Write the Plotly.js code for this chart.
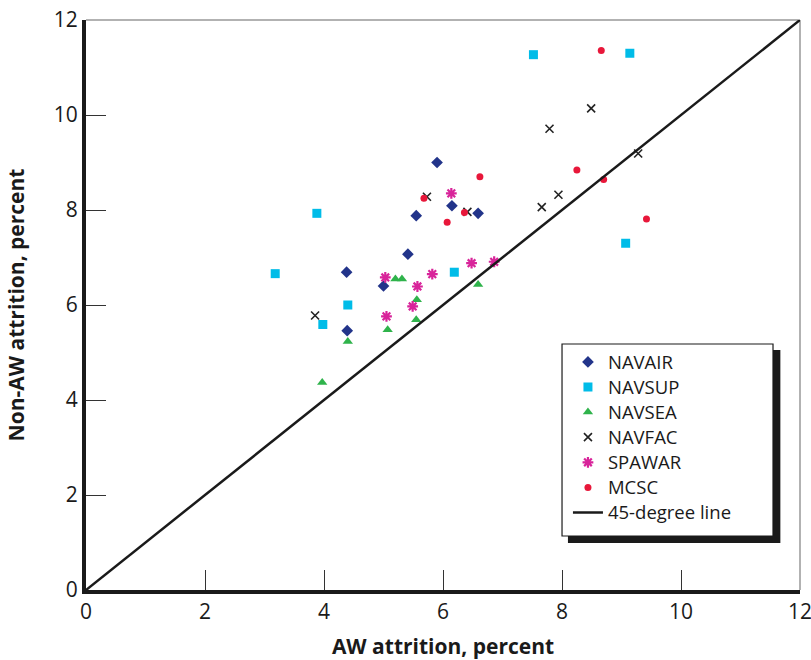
<!DOCTYPE html>
<html>
<head>
<meta charset="utf-8">
<script src="https://cdn.plot.ly/plotly-3.0.1.min.js"></script>
<style>html,body{margin:0;padding:0;background:#fff;}#chart{width:811px;height:660px;}</style>
</head>
<body>
<div id="chart"></div>
<script>
// Data (AW attrition %, Non-AW attrition %)
const navairX = [5.90, 6.15, 5.55, 6.59, 5.41, 4.38, 5.00, 4.39];
const navairY = [9.00, 8.09, 7.88, 7.93, 7.07, 6.69, 6.40, 5.46];
const navsupX = [7.52, 9.14, 3.88, 3.18, 6.19, 4.40, 3.98, 9.07];
const navsupY = [11.27, 11.30, 7.93, 6.66, 6.69, 6.00, 5.59, 7.30];
const navseaX = [5.20, 5.31, 5.56, 5.55, 5.07, 4.40, 6.59, 3.97];
const navseaY = [6.55, 6.55, 6.11, 5.69, 5.48, 5.23, 6.43, 4.37];
const navfacX = [5.73, 6.41, 3.85, 8.49, 7.79, 7.94, 7.66, 9.28];
const navfacY = [8.28, 7.96, 5.78, 10.14, 9.71, 8.32, 8.06, 9.19];
const spawarX = [6.14, 6.48, 6.86, 5.82, 5.03, 5.57, 5.49, 5.05];
const spawarY = [8.35, 6.88, 6.91, 6.65, 6.58, 6.39, 5.97, 5.76];
const mcscX = [6.62, 5.68, 6.36, 6.07, 8.66, 8.25, 8.70, 9.42];
const mcscY = [8.70, 8.25, 7.95, 7.74, 11.36, 8.84, 8.64, 7.81];
const lineX = [0, 12];
const lineY = [0, 12];
const tickVals = [0, 2, 4, 6, 8, 10, 12];
const seriesNames = ["NAVAIR", "NAVSUP", "NAVSEA", "NAVFAC", "SPAWAR", "MCSC", "45-degree line"];

const FONT = "Open Sans, Noto Sans, sans-serif";
const lg = s => '<span style="font-size:18.5px">' + s + '</span>';

const traces = [
  {name: lg(seriesNames[0]), x: navairX, y: navairY, mode: "markers", type: "scatter",
   marker: {symbol: "diamond", size: 9, color: "#22348a"}},
  {name: lg(seriesNames[1]), x: navsupX, y: navsupY, mode: "markers", type: "scatter",
   marker: {symbol: "square", size: 9, color: "#00bce8"}},
  {name: lg(seriesNames[2]), x: navseaX, y: navseaY, mode: "markers", type: "scatter",
   marker: {symbol: "triangle-up", size: 9, color: "#2fb34b"}},
  {name: lg(seriesNames[3]), x: navfacX, y: navfacY, mode: "markers", type: "scatter",
   marker: {symbol: "x-thin-open", size: 8, color: "#222", line: {width: 1.6, color: "#222"}}},
  {name: lg(seriesNames[4]), x: spawarX, y: spawarY, mode: "markers", type: "scatter",
   marker: {symbol: "asterisk-open", size: 9, color: "#d8249a", line: {width: 2.2, color: "#d8249a"}}},
  {name: lg(seriesNames[5]), x: mcscX, y: mcscY, mode: "markers", type: "scatter",
   marker: {symbol: "circle", size: 7, color: "#e8173a"}},
  {name: lg(seriesNames[6]), x: lineX, y: lineY, mode: "lines", type: "scatter",
   line: {color: "#1a1a1a", width: 2.5}}
];

const layout = {
  width: 811, height: 660,
  margin: {l: 86, r: 11, t: 20, b: 70},
  paper_bgcolor: "#fff", plot_bgcolor: "#fff",
  font: {family: FONT, size: 19, color: "#1a1a1a"},
  showlegend: true,
  xaxis: {
    range: [0, 12], tickvals: tickVals, ticks: "inside", ticklen: 20, tickwidth: 1, tickcolor: "#333",
    showgrid: false, zeroline: false, showline: true, linecolor: "#1a1a1a", linewidth: 4,
    tickfont: {family: FONT, size: 21, color: "#1a1a1a"}, ticklabeloverflow: "allow",
    title: {text: "AW attrition, percent", font: {family: FONT, size: 21, color: "#1a1a1a", weight: "bold"}, standoff: 18},
    fixedrange: true
  },
  yaxis: {
    range: [0, 12], tickvals: tickVals, ticks: "inside", ticklen: 20, tickwidth: 1, tickcolor: "#333",
    showgrid: false, zeroline: false, showline: true, linecolor: "#1a1a1a", linewidth: 4,
    tickfont: {family: FONT, size: 21, color: "#1a1a1a"}, ticklabeloverflow: "allow",
    title: {text: "Non-AW attrition, percent", font: {family: FONT, size: 21, color: "#1a1a1a", weight: "bold"}, standoff: 24},
    fixedrange: true
  },
  legend: {
    x: 0.675, y: 0.431, xanchor: "left", yanchor: "top",
    bgcolor: "rgba(0,0,0,0)", borderwidth: 0,
    font: {family: FONT, size: 17, color: "#1a1a1a"},
    tracegroupgap: 0, itemwidth: 30
  },
  shapes: [
    // plot frame top and right (grey)
    {type: "line", xref: "paper", yref: "paper", x0: 0, x1: 1, y0: 1, y1: 1, line: {color: "#999", width: 1.5}, layer: "below"},
    {type: "line", xref: "paper", yref: "paper", x0: 1, x1: 1, y0: 0, y1: 1, line: {color: "#999", width: 1.5}, layer: "below"},
    // legend shadow
    {type: "rect", xref: "paper", yref: "paper", x0: 0.675, x1: 0.9725, y0: 0.0825, y1: 0.421,
     fillcolor: "#1a1a1a", line: {width: 0}, layer: "above"},
    // legend box
    {type: "rect", xref: "paper", yref: "paper", x0: 0.6667, x1: 0.9622, y0: 0.0947, y1: 0.4316,
     fillcolor: "#fff", line: {color: "#1a1a1a", width: 1.2}, layer: "above"}
  ]
};

Plotly.newPlot("chart", traces, layout, {displayModeBar: false, staticPlot: true});
</script>
</body>
</html>
